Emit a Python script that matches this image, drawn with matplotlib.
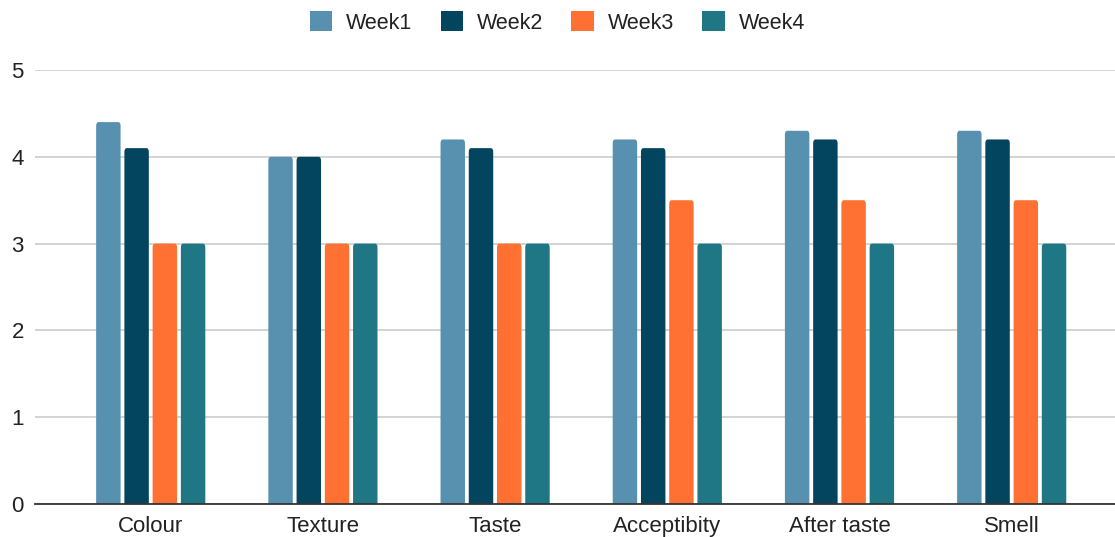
import numpy as np
import matplotlib.pyplot as plt
from matplotlib.patches import FancyBboxPatch, Patch

plt.rcParams['font.family'] = ['Liberation Sans', 'DejaVu Sans']

categories = ["Colour", "Texture", "Taste", "Acceptibity", "After taste", "Smell"]
series = ["Week1", "Week2", "Week3", "Week4"]
week1 = [4.4, 4.0, 4.2, 4.2, 4.3, 4.3]
week2 = [4.1, 4.0, 4.1, 4.1, 4.2, 4.2]
week3 = [3.0, 3.0, 3.0, 3.5, 3.5, 3.5]
week4 = [3.0, 3.0, 3.0, 3.0, 3.0, 3.0]
colors = ["#5891b0", "#03445f", "#ff7033", "#1f7786"]

fig = plt.figure(figsize=(11.15, 5.37), dpi=100)
ax = fig.add_axes([0.0314, 0.0615, 0.9686, 0.8081])

x = np.arange(len(categories))
pitch = 0.164
width = 0.142
for i, (vals, c) in enumerate(zip([week1, week2, week3, week4], colors)):
    bars = ax.bar(x + (i - 1.5) * pitch, vals, width, color=c, zorder=3)
    # swap plain rectangles for ones with slightly rounded corners
    for b in bars:
        b.set_visible(False)
        bx, bw, bh = b.get_x(), b.get_width(), b.get_height()
        p = FancyBboxPatch((bx, -0.2), bw, bh + 0.2,
                           boxstyle="round,pad=0,rounding_size=0.014",
                           mutation_aspect=3.2, fc=c, ec="none", zorder=3)
        ax.add_patch(p)

ax.set_xlim(-0.672, 5.6)
ax.set_ylim(0, 5)
ax.set_yticks(range(6))
ax.set_xticks(x)
ax.set_xticklabels(categories)
ax.grid(axis="y", color="#cccccc", lw=1.2, zorder=0)
for s in ["top", "right", "left"]:
    ax.spines[s].set_visible(False)
ax.spines["bottom"].set_color("#333333")
ax.spines["bottom"].set_linewidth(1.3)
ax.spines["bottom"].set_zorder(4)
ax.tick_params(axis="both", length=0, labelsize=16, colors="#222222")
ax.tick_params(axis="y", pad=8)
ax.tick_params(axis="x", pad=9)

handles = [Patch(fc=c, ec="none") for c in colors]
fig.legend(handles, series, loc="center", bbox_to_anchor=(0.5, 0.958), ncol=4,
           frameon=False, fontsize=15.5, handlelength=1.05, handleheight=1.05,
           columnspacing=1.3, handletextpad=0.65, labelcolor="#222222")

fig.savefig("out.png", dpi=100)
